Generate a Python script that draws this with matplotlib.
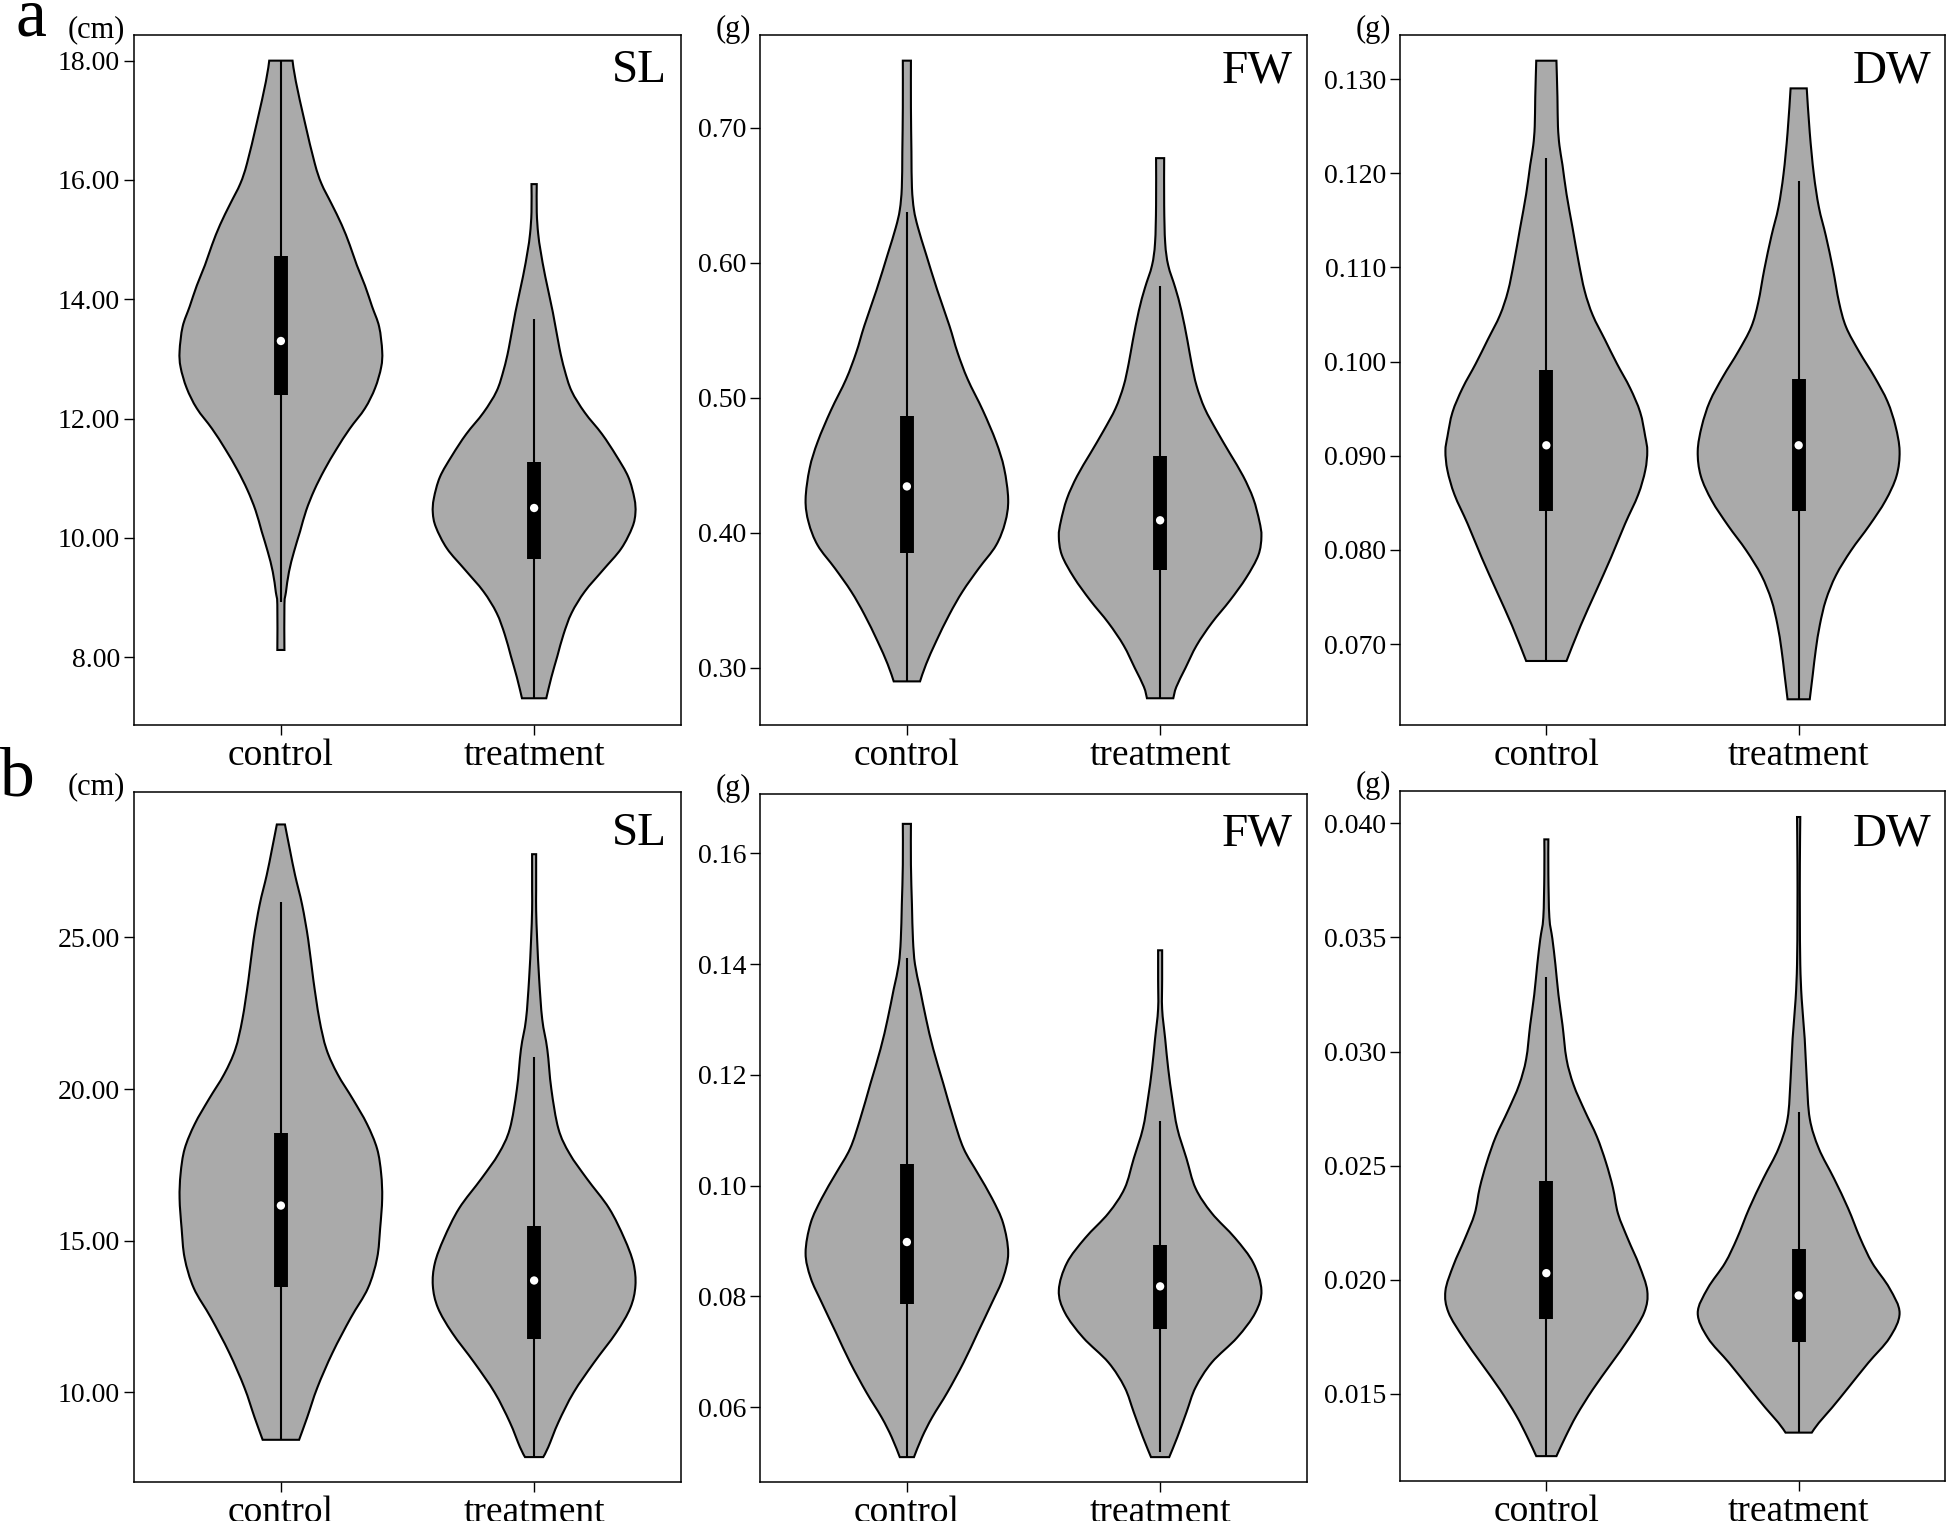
import numpy as np
import matplotlib.pyplot as plt
from matplotlib.path import Path
from matplotlib.patches import PathPatch
from matplotlib.ticker import FormatStrFormatter

plt.rcParams['font.family'] = ['Liberation Serif', 'DejaVu Serif']

groups = ['control', 'treatment']

# ---- violin outlines: value levels and relative half-width (1 = widest) ----
# row a, SL (cm)
a_sl_ctrl_y = [18.00, 17.65, 16.97, 16.28, 15.94, 15.60, 15.25, 14.91, 14.57, 14.23, 13.88, 13.54, 13.13,
               12.86, 12.51, 12.17, 11.83, 11.49, 11.14, 10.80, 10.46, 10.11, 9.77, 9.43, 9.09, 8.88, 8.12]
a_sl_ctrl_w = [0.115, 0.148, 0.236, 0.334, 0.40, 0.50, 0.60, 0.68, 0.75, 0.83, 0.90, 0.97, 1.00,
               0.99, 0.93, 0.83, 0.68, 0.55, 0.43, 0.33, 0.25, 0.19, 0.13, 0.08, 0.05, 0.035, 0.035]
a_sl_trt_y = [15.93, 15.46, 15.10, 14.80, 14.38, 13.78, 13.18, 12.82, 12.46, 12.10, 11.74, 11.38,
              11.02, 10.66, 10.42, 10.18, 9.82, 9.46, 9.10, 8.74, 8.38, 8.02, 7.66, 7.31]
a_sl_trt_w = [0.026, 0.026, 0.04, 0.065, 0.11, 0.185, 0.25, 0.30, 0.37, 0.50, 0.67, 0.81,
              0.93, 0.99, 1.00, 0.97, 0.86, 0.68, 0.50, 0.37, 0.29, 0.23, 0.17, 0.12]
# row a, FW (g)
a_fw_ctrl_y = [0.7496, 0.7150, 0.6820, 0.6556, 0.6391, 0.6259, 0.6061, 0.5797, 0.5533, 0.5335, 0.5137,
               0.4906, 0.4675, 0.4477, 0.4246, 0.4076, 0.3906, 0.3736, 0.3565, 0.3395, 0.3197, 0.3027, 0.2899]
a_fw_ctrl_w = [0.04, 0.04, 0.045, 0.05, 0.07, 0.11, 0.19, 0.30, 0.42, 0.50, 0.60,
               0.75, 0.88, 0.96, 1.00, 0.97, 0.88, 0.71, 0.55, 0.42, 0.29, 0.19, 0.13]
a_fw_trt_y = [0.6774, 0.6426, 0.6147, 0.5980, 0.5813, 0.5645, 0.5422, 0.5255, 0.5088, 0.4921, 0.4753, 0.4586,
              0.4419, 0.4252, 0.4085, 0.3973, 0.3834, 0.3667, 0.3499, 0.3332, 0.3165, 0.2998, 0.2858, 0.2774]
a_fw_trt_w = [0.04, 0.04, 0.05, 0.08, 0.15, 0.21, 0.27, 0.31, 0.36, 0.44, 0.56, 0.69,
              0.82, 0.92, 0.98, 1.00, 0.97, 0.85, 0.69, 0.51, 0.36, 0.25, 0.16, 0.13]
# row a, DW (g)
a_dw_ctrl_y = [0.13196, 0.12809, 0.12500, 0.12294, 0.12088, 0.11779, 0.11419, 0.11058, 0.10749, 0.10492,
               0.10234, 0.09977, 0.09719, 0.09462, 0.09204, 0.09050, 0.08844, 0.08586, 0.08277, 0.07917,
               0.07556, 0.07196, 0.06820]
a_dw_ctrl_w = [0.10, 0.11, 0.115, 0.13, 0.16, 0.20, 0.26, 0.32, 0.38, 0.46,
               0.58, 0.70, 0.83, 0.93, 0.98, 1.00, 0.98, 0.91, 0.78, 0.64,
               0.49, 0.34, 0.20]
a_dw_trt_y = [0.12902, 0.12432, 0.11993, 0.11641, 0.11334, 0.10982, 0.10631, 0.10367, 0.10104, 0.09840,
              0.09577, 0.09313, 0.09049, 0.08786, 0.08522, 0.08259, 0.07995, 0.07731, 0.07468, 0.07204,
              0.06941, 0.06677, 0.06413]
a_dw_trt_w = [0.08, 0.11, 0.15, 0.20, 0.27, 0.34, 0.40, 0.47, 0.60, 0.75,
              0.88, 0.96, 1.00, 0.97, 0.86, 0.70, 0.52, 0.37, 0.27, 0.21,
              0.17, 0.14, 0.11]
# row b, SL (cm)
b_sl_ctrl_y = [28.72, 27.87, 27.05, 26.07, 24.92, 23.61, 22.30, 21.31, 20.49, 19.67, 18.85, 18.03,
               17.21, 16.39, 15.41, 14.43, 13.44, 12.46, 11.31, 10.16, 9.18, 8.44]
b_sl_ctrl_w = [0.04, 0.09, 0.14, 0.21, 0.27, 0.32, 0.38, 0.45, 0.56, 0.71, 0.85, 0.95,
               0.99, 1.00, 0.98, 0.95, 0.86, 0.69, 0.51, 0.36, 0.26, 0.18]
b_sl_trt_y = [27.74, 26.56, 25.90, 24.92, 23.61, 22.30, 21.31, 20.00, 18.69, 17.87, 17.05, 16.07,
              15.08, 14.26, 13.52, 12.79, 11.97, 10.98, 10.00, 9.02, 8.20, 7.87]
b_sl_trt_w = [0.02, 0.02, 0.02, 0.03, 0.05, 0.08, 0.13, 0.17, 0.24, 0.35, 0.52, 0.74,
              0.89, 0.98, 1.00, 0.95, 0.81, 0.59, 0.39, 0.24, 0.14, 0.09]
# row b, FW (g)
b_fw_ctrl_y = [0.16530, 0.15793, 0.15075, 0.14446, 0.13996, 0.13547, 0.13008, 0.12469, 0.11840, 0.11211,
               0.10672, 0.10223, 0.09774, 0.09324, 0.08785, 0.08336, 0.07887, 0.07348, 0.06809, 0.06270,
               0.05820, 0.05461, 0.05101]
b_fw_ctrl_w = [0.04, 0.04, 0.05, 0.06, 0.08, 0.13, 0.19, 0.26, 0.36, 0.46,
               0.56, 0.70, 0.84, 0.95, 1.00, 0.95, 0.84, 0.70, 0.56, 0.40,
               0.25, 0.15, 0.07]
b_fw_trt_y = [0.14248, 0.13727, 0.13188, 0.12649, 0.12110, 0.11571, 0.11032, 0.10492, 0.09953, 0.09504,
              0.09055, 0.08606, 0.08112, 0.07707, 0.07258, 0.06809, 0.06359, 0.05910, 0.05461, 0.05101]
b_fw_trt_w = [0.02, 0.02, 0.02, 0.05, 0.08, 0.12, 0.17, 0.26, 0.35, 0.51,
              0.74, 0.92, 1.00, 0.94, 0.76, 0.51, 0.35, 0.26, 0.17, 0.09]
# row b, DW (g)
b_dw_ctrl_y = [0.03930, 0.03776, 0.03588, 0.03494, 0.03381, 0.03249, 0.03117, 0.02967, 0.02854, 0.02741,
               0.02628, 0.02515, 0.02403, 0.02290, 0.02177, 0.02064, 0.01951, 0.01857, 0.01744, 0.01631,
               0.01519, 0.01406, 0.01312, 0.01227]
b_dw_ctrl_w = [0.02, 0.02, 0.03, 0.06, 0.09, 0.12, 0.16, 0.20, 0.27, 0.38,
               0.50, 0.59, 0.66, 0.71, 0.81, 0.92, 1.00, 0.97, 0.82, 0.64,
               0.46, 0.30, 0.19, 0.10]
b_dw_trt_y = [0.04028, 0.03821, 0.03602, 0.03384, 0.03231, 0.03056, 0.02881, 0.02706, 0.02575, 0.02444,
              0.02313, 0.02182, 0.02073, 0.01963, 0.01854, 0.01745, 0.01636, 0.01526, 0.01439, 0.01373,
              0.01330]
b_dw_trt_w = [0.016, 0.012, 0.012, 0.016, 0.03, 0.06, 0.08, 0.11, 0.20, 0.35,
              0.49, 0.61, 0.73, 0.90, 1.00, 0.90, 0.69, 0.49, 0.33, 0.20,
              0.13]

# ---- inner box stats: whisker low, Q1, median, Q3, whisker high ----
a_sl_ctrl_box = [8.93, 12.39, 13.30, 14.72, 18.00]
a_sl_trt_box = [7.31, 9.65, 10.50, 11.27, 13.67]
a_fw_ctrl_box = [0.2899, 0.3847, 0.4343, 0.4864, 0.6372]
a_fw_trt_box = [0.2774, 0.3722, 0.4092, 0.4566, 0.5826]
a_dw_ctrl_box = [0.0682, 0.08411, 0.09111, 0.09915, 0.12166]
a_dw_trt_box = [0.06413, 0.08411, 0.09111, 0.09812, 0.11918]
b_sl_ctrl_box = [8.44, 13.48, 16.16, 18.56, 26.15]
b_sl_trt_box = [7.87, 11.75, 13.69, 15.49, 21.07]
b_fw_ctrl_box = [0.05101, 0.07869, 0.08983, 0.10385, 0.14104]
b_fw_trt_box = [0.05191, 0.07420, 0.08183, 0.08938, 0.11166]
b_dw_ctrl_box = [0.01227, 0.01826, 0.02029, 0.02433, 0.03329]
b_dw_trt_box = [0.01330, 0.01727, 0.01931, 0.02134, 0.02733]

# ---- axis ticks ----
a_sl_ticks = [8, 10, 12, 14, 16, 18]
a_fw_ticks = [0.30, 0.40, 0.50, 0.60, 0.70]
a_dw_ticks = [0.070, 0.080, 0.090, 0.100, 0.110, 0.120, 0.130]
b_sl_ticks = [10, 15, 20, 25]
b_fw_ticks = [0.06, 0.08, 0.10, 0.12, 0.14, 0.16]
b_dw_ticks = [0.015, 0.020, 0.025, 0.030, 0.035, 0.040]

W, H = 1947, 1521
fig = plt.figure(figsize=(W / 100, H / 100), dpi=100)


def add_ax(left, top, width, bottom):
    return fig.add_axes([left / W, 1 - bottom / H, width / W, (bottom - top) / H])


def catmull(points):
    # bezier segments through the read outline points
    verts, codes = [], []
    n = len(points)
    for i in range(n - 1):
        p0 = points[i - 1] if i > 0 else points[i]
        p1 = points[i]
        p2 = points[i + 1]
        p3 = points[i + 2] if i + 2 < n else points[i + 1]
        c1 = p1 + (p2 - p0) / 6.0
        c2 = p2 - (p3 - p1) / 6.0
        verts += [c1, c2, p2]
        codes += [Path.CURVE4] * 3
    return verts, codes


def violin(ax, pos, ys, ws, box, half=0.40):
    ys = np.asarray(ys)[::-1]
    ws = np.asarray(ws)[::-1] * half
    right = np.column_stack([pos + ws, ys])
    left = np.column_stack([pos - ws, ys])[::-1]
    verts = [right[0]]
    codes = [Path.MOVETO]
    v, c = catmull(right)
    verts += v
    codes += c
    verts.append(left[0])
    codes.append(Path.LINETO)
    v, c = catmull(left)
    verts += v
    codes += c
    verts.append(right[0])
    codes.append(Path.CLOSEPOLY)
    ax.add_patch(PathPatch(Path(verts, codes), facecolor='#aaaaaa', edgecolor='black', lw=1.5, zorder=2))
    lo, q1, med, q3, hi = box
    ax.plot([pos, pos], [lo, hi], color='black', lw=1.5, solid_capstyle='butt', zorder=3)
    ax.plot([pos, pos], [q1, q3], color='black', lw=10, solid_capstyle='butt', zorder=4)
    ax.scatter([pos], [med], s=36, color='white', edgecolors='none', zorder=5)


panels = [
    (add_ax(134, 35, 547, 725), (a_sl_ctrl_y, a_sl_ctrl_w, a_sl_ctrl_box), (a_sl_trt_y, a_sl_trt_w, a_sl_trt_box),
     a_sl_ticks, '%.2f', (6.862, 18.43), 'SL', '(cm)', 47, 9),
    (add_ax(760, 35, 547, 725), (a_fw_ctrl_y, a_fw_ctrl_w, a_fw_ctrl_box), (a_fw_trt_y, a_fw_trt_w, a_fw_trt_box),
     a_fw_ticks, '%.2f', (0.2576, 0.7686), 'FW', '(g)', 47, 9),
    (add_ax(1400, 35, 545, 725), (a_dw_ctrl_y, a_dw_ctrl_w, a_dw_ctrl_box), (a_dw_trt_y, a_dw_trt_w, a_dw_trt_box),
     a_dw_ticks, '%.3f', (0.0614, 0.13469), 'DW', '(g)', 47, 9),
    (add_ax(134, 792, 547, 1482), (b_sl_ctrl_y, b_sl_ctrl_w, b_sl_ctrl_box), (b_sl_trt_y, b_sl_trt_w, b_sl_trt_box),
     b_sl_ticks, '%.2f', (7.049, 29.79), 'SL', '(cm)', 53, 9),
    (add_ax(760, 794, 547, 1482), (b_fw_ctrl_y, b_fw_ctrl_w, b_fw_ctrl_box), (b_fw_trt_y, b_fw_trt_w, b_fw_trt_box),
     b_fw_ticks, '%.2f', (0.04652, 0.17069), 'FW', '(g)', 51, 9),
    (add_ax(1400, 791, 545, 1481), (b_dw_ctrl_y, b_dw_ctrl_w, b_dw_ctrl_box), (b_dw_trt_y, b_dw_trt_w, b_dw_trt_box),
     b_dw_ticks, '%.3f', (0.01118, 0.04142), 'DW', '(g)', 54, 9),
]

for ax, ctrl, trt, ticks, fmt, ylim, name, unit, name_dy, unit_dx in panels:
    violin(ax, 0, *ctrl)
    violin(ax, 1, *trt)
    ax.set_xlim(-0.58, 1.58)
    ax.set_ylim(*ylim)
    ax.set_xticks([0, 1])
    ax.set_xticklabels(groups)
    ax.set_yticks(ticks)
    ax.yaxis.set_major_formatter(FormatStrFormatter(fmt))
    ax.tick_params(axis='y', direction='out', length=7, width=1, labelsize=20, pad=3)
    ax.tick_params(axis='x', direction='out', length=7, width=1, labelsize=27, pad=3)
    for sp in ax.spines.values():
        sp.set_linewidth(1.1)
    ax.annotate(name, xy=(1, 1), xycoords='axes fraction', xytext=(-10, -name_dy * 0.72),
                textcoords='offset points', ha='right', va='baseline', fontsize=34)
    ax.annotate(unit, xy=(0, 1), xycoords='axes fraction', xytext=(-unit_dx * 0.72, 4),
                textcoords='offset points', ha='right', va='center', fontsize=22)

fig.text(16 / W, 1 - 36 / H, 'a', fontsize=50, ha='left', va='baseline')
fig.text(0 / W, 1 - 795 / H, 'b', fontsize=50, ha='left', va='baseline')

fig.savefig('out.png', dpi=100)
